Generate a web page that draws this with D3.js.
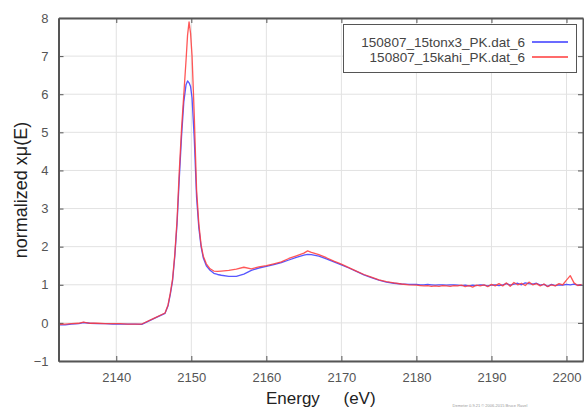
<!DOCTYPE html>
<html>
<head>
<meta charset="utf-8">
<style>
  body { margin: 0; background: #fff; }
  svg { display: block; font-family: "Liberation Sans", Arial, sans-serif; }
</style>
</head>
<body>
<svg width="584" height="409"></svg>
<script src="https://d3js.org/d3.v7.min.js"></script>
<script>

// energy grid (eV)
var energy = [
  2132.5, 2133.2, 2134, 2135, 2135.6, 2136.5, 2137.5, 2138.5, 2139.5, 2140.5, 2141.5, 2142.5, 2143.4, 2145,
  2146.5, 2146.9, 2147.2, 2147.5, 2147.8, 2148.1, 2148.4, 2148.7, 2149.0, 2149.3, 2149.5, 2149.7,
  2149.9, 2150.1, 2150.4, 2150.7, 2151.0, 2151.3, 2151.6, 2152.0, 2152.5, 2153.0, 2153.5, 2154.0,
  2155, 2156, 2157, 2158, 2159, 2160, 2161, 2162, 2163, 2164, 2165, 2165.5, 2166, 2167, 2168, 2169,
  2170, 2171, 2172, 2173, 2174, 2175, 2176, 2177, 2178, 2179,
  2180, 2180.5, 2181, 2181.5, 2182, 2182.5, 2183, 2183.5, 2184, 2184.5,
  2185, 2185.5, 2186, 2186.5, 2187, 2187.5, 2188, 2188.5, 2189, 2189.5,
  2190, 2190.5, 2191, 2191.5, 2192, 2192.5, 2193, 2193.5, 2194, 2194.5,
  2195, 2195.5, 2196, 2196.5, 2197, 2197.5, 2198, 2198.5, 2199, 2199.5,
  2200, 2200.5, 2201, 2201.5, 2202
];

// 150807_15tonx3_PK.dat_6
var muTonx = [
  -0.05, -0.05, -0.03, -0.02, 0.01, -0.01, -0.02, -0.02, -0.03, -0.03, -0.03, -0.03, -0.04, 0.11,
  0.25, 0.45, 0.75, 1.1, 1.75, 2.6, 3.8, 4.9, 5.8, 6.25, 6.35, 6.3,
  6.2, 5.9, 4.8, 3.3, 2.5, 2.0, 1.7, 1.5, 1.38, 1.3, 1.27, 1.25,
  1.22, 1.22, 1.28, 1.38, 1.44, 1.48, 1.53, 1.58, 1.65, 1.72, 1.78, 1.8, 1.79, 1.75, 1.68, 1.6,
  1.52, 1.44, 1.35, 1.26, 1.19, 1.12, 1.07, 1.04, 1.02, 1.01,
  1.01, 1.0, 1.0, 1.01, 1.0, 0.99, 1.0, 1.0, 0.99, 1.0,
  1.0, 0.99, 0.98, 0.99, 0.97, 0.99, 0.98, 1.0, 0.99, 0.97,
  0.99, 1.0, 0.98, 1.0, 1.03, 0.99, 1.02, 1.04, 1.0, 1.05,
  1.03, 1.02, 1.04, 0.99, 1.01, 0.96, 1.01, 0.98, 1.0, 0.99,
  1.01, 1.0, 1.02, 0.99, 1.0
];

// 150807_15kahi_PK.dat_6
var muKahi = [
  -0.04, -0.03, -0.02, -0.01, 0.02, -0.01, -0.01, -0.02, -0.02, -0.02, -0.03, -0.03, -0.03, 0.12,
  0.26, 0.47, 0.78, 1.15, 1.8, 2.7, 4.0, 5.1, 6.0, 6.9, 7.55, 7.9,
  7.6, 7.0, 5.4, 3.5, 2.6, 2.05, 1.75, 1.55, 1.42, 1.36, 1.35, 1.36,
  1.38, 1.41, 1.46, 1.42, 1.47, 1.5, 1.55, 1.6, 1.69, 1.76, 1.83, 1.89, 1.85, 1.79, 1.71, 1.62,
  1.54, 1.45, 1.36, 1.27, 1.2, 1.13, 1.08, 1.05, 1.02, 1.0,
  0.99, 0.98, 0.97, 0.98, 0.96, 0.97, 0.96, 0.98, 0.97, 0.96,
  0.98, 0.97, 0.99, 0.95, 0.98, 0.94, 0.99, 0.97, 1.0, 0.95,
  1.01, 0.97, 1.03, 0.97, 1.05, 0.96, 1.06, 1.0, 1.04, 0.98,
  1.07, 1.0, 1.03, 0.97, 1.02, 0.95, 1.0, 0.97, 1.03, 1.0,
  1.12, 1.24, 1.05, 0.98, 1.01
];

var seriesNames = ["150807_15tonx3_PK.dat_6", "150807_15kahi_PK.dat_6"];
var seriesColors = ["#3a3aff", "#ff3a3a"];
var xTicks = [2140, 2150, 2160, 2170, 2180, 2190, 2200];
var yTicks = [-1, 0, 1, 2, 3, 4, 5, 6, 7, 8];

var svg = d3.select("svg"),
    margin = {top: 18, right: 1, bottom: 48, left: 58.5},
    width = +svg.attr("width") - margin.left - margin.right,
    height = +svg.attr("height") - margin.top - margin.bottom,
    g = svg.append("g").attr("transform", "translate(" + margin.left + "," + margin.top + ")");

var x = d3.scaleLinear()
    .domain([2132.3, 2202.2])
    .range([0, width]);

var y = d3.scaleLinear()
    .domain([-1, 8])
    .range([height, 0]);

// grid
g.append("g")
    .selectAll("line.vx")
    .data(xTicks)
  .enter().append("line")
    .attr("x1", function(d) { return x(d); })
    .attr("x2", function(d) { return x(d); })
    .attr("y1", 0)
    .attr("y2", height)
    .attr("stroke", "#e2e2e2");

g.append("g")
    .selectAll("line.hy")
    .data(yTicks)
  .enter().append("line")
    .attr("x1", 0)
    .attr("x2", width)
    .attr("y1", function(d) { return y(d); })
    .attr("y2", function(d) { return y(d); })
    .attr("stroke", "#e2e2e2");

// axes with inward ticks (gnuplot style)
function styleAxis(sel) {
  sel.select(".domain").attr("stroke", "#555").attr("stroke-width", 2);
  sel.selectAll(".tick line").attr("stroke", "#555");
  sel.selectAll(".tick text").attr("fill", "#555").style("font-size", "13px");
}

g.append("g")
    .attr("transform", "translate(0," + height + ")")
    .call(d3.axisBottom(x).tickValues(xTicks).tickFormat(d3.format("d"))
      .tickSizeInner(-5).tickSizeOuter(0).tickPadding(12))
    .call(styleAxis);

g.append("g")
    .call(d3.axisLeft(y).tickValues(yTicks).tickFormat(d3.format("d"))
      .tickSizeInner(-5).tickSizeOuter(0).tickPadding(10))
    .call(styleAxis);

g.append("g")
    .call(d3.axisTop(x).tickValues(xTicks).tickSizeInner(-5).tickSizeOuter(0).tickFormat(""))
    .call(styleAxis);

g.append("g")
    .attr("transform", "translate(" + width + ",0)")
    .call(d3.axisRight(y).tickValues(yTicks).tickSizeInner(-5).tickSizeOuter(0).tickFormat(""))
    .call(styleAxis);

// curves
var line = d3.line()
    .x(function(d) { return x(d[0]); })
    .y(function(d) { return y(d[1]); });

[muTonx, muKahi].forEach(function(mu, i) {
  g.append("path")
      .datum(energy.map(function(e, j) { return [e, mu[j]]; }))
      .attr("fill", "none")
      .attr("stroke", seriesColors[i])
      .attr("stroke-opacity", 0.85)
      .attr("stroke-width", 1.3)
      .attr("stroke-linejoin", "round")
      .attr("d", line);
});

// legend
var legend = svg.append("g").attr("transform", "translate(343,24)");

legend.append("rect")
    .attr("x", 0.5)
    .attr("y", 0.5)
    .attr("width", 233)
    .attr("height", 48)
    .attr("fill", "#fff")
    .attr("stroke", "#555");

seriesNames.forEach(function(name, i) {
  legend.append("text")
      .attr("x", 182)
      .attr("y", 23 + i * 15)
      .attr("text-anchor", "end")
      .attr("fill", "#444")
      .style("font-size", "13.5px")
      .text(name);
  legend.append("line")
      .attr("x1", 189)
      .attr("x2", 225)
      .attr("y1", 18 + i * 15)
      .attr("y2", 18 + i * 15)
      .attr("stroke", seriesColors[i])
      .attr("stroke-width", 1.3);
});

// axis titles
svg.append("text")
    .attr("x", 266)
    .attr("y", 404)
    .attr("fill", "#222")
    .style("font-size", "17px")
    .style("white-space", "pre")
    .text("Energy     (eV)");

svg.append("text")
    .attr("transform", "translate(27,190) rotate(-90)")
    .attr("text-anchor", "middle")
    .attr("fill", "#222")
    .style("font-size", "18px")
    .text("normalized xμ(E)");

svg.append("text")
    .attr("x", 490)
    .attr("y", 407)
    .attr("text-anchor", "middle")
    .attr("fill", "#999")
    .style("font-size", "4px")
    .text("Demeter 0.9.21 © 2006-2015 Bruce Ravel");

</script>
</body>
</html>
